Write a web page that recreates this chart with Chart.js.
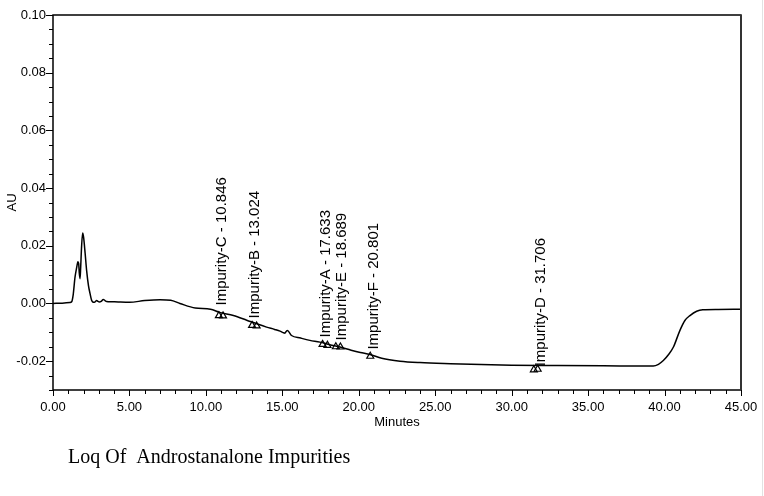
<!DOCTYPE html>
<html>
<head>
<meta charset="utf-8">
<title>Loq Of Androstanalone Impurities</title>
<script src="https://cdn.jsdelivr.net/npm/chart.js@4.4.1/dist/chart.umd.min.js"></script>
<style>
  html, body { margin: 0; padding: 0; background: #fff; }
  #wrap { width: 764px; height: 496px; position: relative; }
</style>
</head>
<body>
<div id="wrap"><canvas id="myChart" width="764" height="496"></canvas></div>
<script>
// chromatogram trace (minutes / AU)
const times = [0, 0.6, 1.1, 1.22, 1.32, 1.44, 1.55, 1.63, 1.68, 1.72, 1.77, 1.81, 1.87, 1.94, 2.0,
  2.1, 2.2, 2.32, 2.42, 2.52, 2.6, 2.7, 2.86, 2.95, 3.03, 3.15, 3.29, 3.4, 3.51, 3.8, 4.27, 5.0,
  6.0, 7.0, 7.7, 8.3, 9.3, 10.3, 10.9, 11.8, 12.67, 13.3, 13.97, 14.5, 14.85, 15.05, 15.17, 15.25,
  15.33, 15.6, 16.2, 16.8, 17.46, 18.1, 18.77, 19.5, 20.1, 20.73, 21.5, 22.7, 24.0, 26.0, 28.0,
  30.0, 33.0, 36.0, 39.26, 39.6, 39.92, 40.25, 40.58, 41.0, 41.33, 41.66, 42.1, 42.5, 43.5, 45.0];
const au = [0, 0.0001, 0.0003, 0.0006, 0.003, 0.0091, 0.0125, 0.0145, 0.0138, 0.0105, 0.0086, 0.0125, 0.0198, 0.0244, 0.023,
  0.0175, 0.0114, 0.0062, 0.0035, 0.0012, 0.0005, 0.0004, 0.001, 0.0007, 0.0005, 0.0007, 0.0014, 0.001, 0.0007, 0.0006, 0.0005, 0.0004,
  0.001, 0.0013, 0.0011, 0.0, -0.0016, -0.002, -0.0031, -0.0042, -0.0058, -0.007, -0.0082, -0.009, -0.0096, -0.0101, -0.0103, -0.0097,
  -0.0094, -0.0111, -0.012, -0.0128, -0.0134, -0.0143, -0.0151, -0.0162, -0.017, -0.0177, -0.019, -0.02, -0.0205, -0.0209, -0.0212,
  -0.0214, -0.0215, -0.0216, -0.0217, -0.0211, -0.0198, -0.0178, -0.0151, -0.0094, -0.0059, -0.0042, -0.0027, -0.0022, -0.0021, -0.002];

// peak start/end markers (triangles)
const markerTimes = [10.85, 11.12, 13.02, 13.32, 17.63, 17.95, 18.5, 18.8, 20.75, 31.45, 31.7];
const markerAU = [-0.0042, -0.0043, -0.0076, -0.0078, -0.0142, -0.0145, -0.015, -0.0151, -0.0183, -0.023, -0.0228];

// named peaks
const peakNames = ['Impurity-C', 'Impurity-B', 'Impurity-A', 'Impurity-E', 'Impurity-F', 'Impurity-D'];
const peakTimes = [10.846, 13.024, 17.633, 18.689, 20.801, 31.706];
const labelBase = [-0.0007, -0.0052, -0.0118, -0.0128, -0.016, -0.0218];

const xTicks = [0, 5, 10, 15, 20, 25, 30, 35, 40, 45];
const yTicks = [-0.02, 0, 0.02, 0.04, 0.06, 0.08, 0.10];

const chartTitle = 'Loq Of  Androstanalone Impurities';

const sans = '"Liberation Sans", Arial, sans-serif';

// tick marks + frame + peak labels
const framePlugin = {
  id: 'frame',
  afterDatasetsDraw(chart) {
    const { ctx, chartArea: a, scales: { x, y } } = chart;
    ctx.save();

    // peak labels, rotated
    ctx.font = '15px ' + sans;
    ctx.fillStyle = '#000';
    ctx.textAlign = 'left';
    ctx.textBaseline = 'middle';
    peakNames.forEach((name, i) => {
      const px = x.getPixelForValue(peakTimes[i]) + 3;
      const py = y.getPixelForValue(labelBase[i]);
      ctx.save();
      ctx.translate(px, py);
      ctx.rotate(-Math.PI / 2);
      ctx.fillText(name + ' - ' + peakTimes[i].toFixed(3), 0, 0);
      ctx.restore();
    });

    // ticks
    ctx.strokeStyle = '#000';
    ctx.lineWidth = 1;
    ctx.beginPath();
    for (let m = 0; m <= 45; m++) {
      const px = Math.round(x.getPixelForValue(m)) + 0.5;
      const len = m % 5 === 0 ? 6 : 4;
      ctx.moveTo(px, a.bottom);
      ctx.lineTo(px, a.bottom + len);
    }
    for (let k = -6; k <= 20; k++) {
      const py = Math.round(y.getPixelForValue(k * 0.005)) + 0.5;
      const len = k % 4 === 0 ? 7 : 4;
      ctx.moveTo(a.left, py);
      ctx.lineTo(a.left - len, py);
    }
    ctx.stroke();

    // frame
    ctx.lineWidth = 1.5;
    ctx.strokeStyle = '#000';
    ctx.strokeRect(a.left, a.top, a.right - a.left, a.bottom - a.top);
    ctx.lineWidth = 2;
    ctx.strokeStyle = '#333';
    ctx.beginPath();
    ctx.moveTo(a.right, a.top);
    ctx.lineTo(a.right, a.bottom);
    ctx.stroke();

    // faint edge line at the right of the picture
    ctx.lineWidth = 1;
    ctx.strokeStyle = '#e2e2e2';
    ctx.beginPath();
    ctx.moveTo(762.5, 0);
    ctx.lineTo(762.5, 496);
    ctx.stroke();

    // caption under the plot
    ctx.font = '20px "Liberation Serif", "Times New Roman", serif';
    ctx.textBaseline = 'alphabetic';
    ctx.fillStyle = '#000';
    ctx.fillText(chartTitle, 68, 463);

    ctx.restore();
  }
};

const ctx = document.getElementById('myChart').getContext('2d');
new Chart(ctx, {
  type: 'line',
  data: {
    datasets: [{
      data: times.map((t, i) => ({ x: t, y: au[i] })),
      borderColor: '#000',
      borderWidth: 1.5,
      pointRadius: 0,
      cubicInterpolationMode: 'monotone',
      fill: false
    }, {
      type: 'scatter',
      data: markerTimes.map((t, i) => ({ x: t, y: markerAU[i] })),
      pointStyle: 'triangle',
      pointRadius: 4,
      borderColor: '#000',
      backgroundColor: 'rgba(255,255,255,0)',
      borderWidth: 1.2,
      showLine: false
    }]
  },
  options: {
    responsive: false,
    animation: false,
    devicePixelRatio: 1,
    layout: { padding: { left: 0, top: 15, right: 23, bottom: 66 } },
    plugins: { legend: { display: false }, tooltip: { enabled: false }, title: { display: false } },
    scales: {
      x: {
        type: 'linear',
        min: 0,
        max: 45,
        afterBuildTicks: s => { s.ticks = xTicks.map(v => ({ value: v })); },
        afterFit: s => { s.height = 40; s.paddingLeft = 0; s.paddingRight = 0; },
        ticks: {
          autoSkip: false,
          maxRotation: 0,
          padding: 10,
          color: '#000',
          font: { family: sans, size: 13 },
          callback: v => Number(v).toFixed(2)
        },
        grid: { display: false, drawTicks: false },
        border: { display: false },
        title: { display: true, text: 'Minutes', color: '#000', font: { family: sans, size: 13 }, padding: 0 }
      },
      y: {
        min: -0.03,
        max: 0.10,
        afterBuildTicks: s => { s.ticks = yTicks.map(v => ({ value: v })); },
        afterFit: s => { s.width = 53; s.paddingTop = 0; s.paddingBottom = 0; },
        ticks: {
          padding: 7,
          color: '#000',
          font: { family: sans, size: 13 },
          callback: v => Number(v).toFixed(2)
        },
        grid: { display: false, drawTicks: false },
        border: { display: false },
        title: { display: true, text: 'AU', color: '#000', font: { family: sans, size: 13 }, padding: { top: 5, bottom: 0 } }
      }
    }
  },
  plugins: [framePlugin]
});
</script>
</body>
</html>
